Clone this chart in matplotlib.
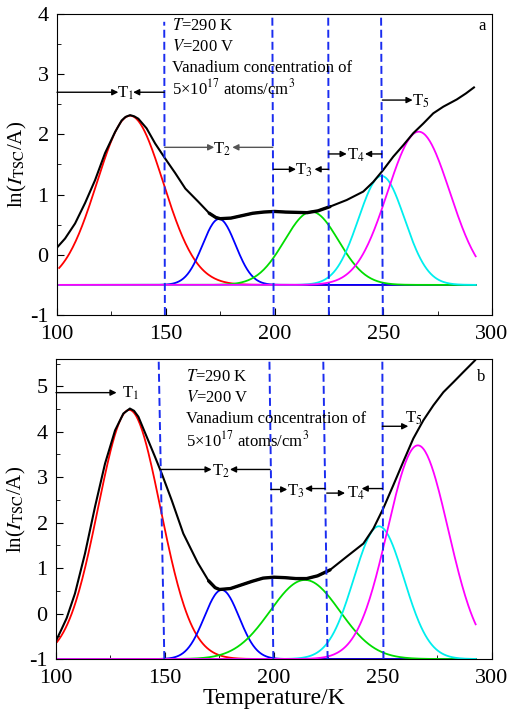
import numpy as np
import matplotlib
matplotlib.use("Agg")
import matplotlib.pyplot as plt

plt.rcParams['font.family'] = ['Liberation Serif', 'DejaVu Serif']
plt.rcParams['mathtext.fontset'] = 'stix'
plt.rcParams['axes.unicode_minus'] = False

# measured TSC curve, panel a
temp_a = [100, 103.7, 108.3, 112.9, 117.5, 122.1, 126.7, 129.7, 131.5, 133.6, 135.5, 137.4,
          141.2, 145.1, 149.7, 154.3, 159, 165, 170, 173, 175, 180, 185, 190, 195, 200,
          205, 210, 215, 220, 225.5, 233.2, 240.8, 245.4, 250, 254.6, 259.2, 263.8, 268.4,
          273, 277.6, 283.8, 288, 291.7]
tsc_a = [0.12, 0.27, 0.52, 0.86, 1.24, 1.69, 2.04, 2.23, 2.29, 2.32, 2.30, 2.26,
         2.10, 1.85, 1.60, 1.36, 1.10, 0.88, 0.69, 0.62, 0.60, 0.61, 0.65, 0.69, 0.71, 0.72,
         0.71, 0.705, 0.70, 0.73, 0.80, 0.91, 1.05, 1.21, 1.41, 1.63, 1.82, 2.02, 2.18,
         2.35, 2.46, 2.58, 2.68, 2.78]

# measured TSC curve, panel b
temp_b = [100, 102.5, 104.9, 108.7, 113.3, 117.9, 122.5, 127.1, 130.9, 133.9, 135.8, 137.8,
          141.6, 145.4, 148.5, 153.1, 158.4, 165, 170, 173, 175, 180, 185, 190, 195, 200,
          205, 210, 215, 220, 225.7, 233.3, 241, 245.6, 250.1, 254.7, 259.3, 263.9, 268.5,
          273.1, 277.7, 282.3, 286.8, 292.2]
tsc_b = [-0.60, -0.35, -0.10, 0.44, 1.32, 2.35, 3.30, 4.03, 4.40, 4.51, 4.46, 4.33,
         3.89, 3.45, 3.08, 2.49, 1.76, 1.12, 0.72, 0.57, 0.53, 0.55, 0.63, 0.71, 0.78, 0.80,
         0.79, 0.77, 0.77, 0.83, 0.96, 1.25, 1.54, 1.87, 2.31, 2.82, 3.34, 3.85, 4.25,
         4.58, 4.87, 5.09, 5.31, 5.57]

# fitted peaks T1..T5: centre (K), peak value, width (K)
peak_colors = ['#ff0000', '#0000ff', '#00dd00', '#00eeee', '#ff00ff']
centre_a = [133.6, 174.5, 217.0, 249.2, 266.3]
height_a = [2.31, 0.595, 0.716, 1.31, 2.045]
width_a = [15.2, 7.6, 12.4, 10.6, 14.3]
base_a = -0.5

centre_b = [133.6, 176.0, 214.2, 248.1, 266.0]
height_b = [4.48, 0.52, 0.74, 1.92, 3.70]
width_b = [14.3, 8.0, 16.0, 11.5, 13.9]
base_b = -1.0

# trap region borders: x at top, x at bottom, y at top
borders_a = [(149.3, 149.6, 3.87), (199.0, 199.6, 4), (224.7, 225.0, 4), (249.0, 249.8, 4)]
borders_b = [(147.1, 149.7, 5.6), (197.9, 199.7, 5.6), (222.6, 224.6, 5.6), (249.7, 250.2, 5.6)]

text_lines = ['$\\it{T}$=290 K', '$\\it{V}$=200 V', 'Vanadium concentration of',
              '5×10$^{17}$ atoms/cm$^{3}$']


def arrow(ax, x0, x1, y, color='k'):
    ax.annotate('', xy=(x1, y), xytext=(x0, y),
                arrowprops=dict(arrowstyle='-|>', color=color, lw=1.0,
                                mutation_scale=9, shrinkA=0, shrinkB=0))


def panel(ax, temp, tsc, centre, height, width, base, t0, borders, ylim):
    tt = np.linspace(t0, 292.5, 400)
    for c, h, w, col in zip(centre, height, width, peak_colors):
        ax.plot(tt, base + (h - base) * np.exp(-(tt - c) ** 2 / (2 * w ** 2)), color=col, lw=1.3)
    ax.plot(temp, tsc, color='k', lw=1.5)
    # noisy stretch of the measured curve looks thicker
    temp = np.asarray(temp)
    tsc = np.asarray(tsc)
    noisy = (temp >= 170) & (temp <= 228)
    ax.plot(temp[noisy], tsc[noisy], color='k', lw=2.4, solid_capstyle='round')
    for (xt, xb, yt) in borders:
        ax.plot([xb, xt], [ylim[0], yt], color='#1a2cf0', lw=1.4, ls=(0, (4.1, 2.1)))
    ax.set_xlim(100, 300)
    ax.set_ylim(*ylim)
    ax.set_xticks([100, 150, 200, 250, 300])
    ax.set_xticks([125, 175, 225, 275], minor=True)
    ax.tick_params(which='both', direction='in', labelsize=16, top=False, right=False)
    ax.tick_params(which='major', length=5)
    ax.tick_params(which='minor', length=3)
    ax.tick_params(axis='x', pad=7)
    ax.tick_params(axis='y', pad=6)
    ax.set_ylabel('ln($I$$_{\\rm TSC}$/A)', fontsize=15, labelpad=1)


fig = plt.figure(figsize=(5.09, 7.13), dpi=100)
ax1 = fig.add_axes([0.112, 0.5582, 0.8546, 0.4222])
ax2 = fig.add_axes([0.110, 0.0757, 0.8566, 0.4208])

panel(ax1, temp_a, tsc_a, centre_a, height_a, width_a, base_a, 101, borders_a, (-1, 4))
panel(ax2, temp_b, tsc_b, centre_b, height_b, width_b, base_b, 100.5, borders_b, (-1, 5.6))
ax1.set_yticks([-1, 0, 1, 2, 3, 4])
ax1.set_yticks(np.arange(-0.5, 4, 1), minor=True)
ax2.set_yticks([-1, 0, 1, 2, 3, 4, 5])
ax2.set_yticks(np.arange(-0.5, 5.6, 1), minor=True)
ax2.set_xlabel('Temperature/K', fontsize=17, labelpad=0)

fs = 12
# panel a annotations
for i, s in enumerate(text_lines):
    ax1.text(152.9, 3.80 - 0.345 * i, s, fontsize=fs, ha='left', va='center')
ax1.text(297, 3.8, 'a', fontsize=fs, ha='right', va='center')
arrow(ax1, 100, 128.2, 2.70)
ax1.text(131.5, 2.68, 'T$_1$', fontsize=fs, ha='center', va='center')
arrow(ax1, 149.3, 135.0, 2.70)
arrow(ax1, 149.5, 172.3, 1.785, '#555555')
ax1.text(175.8, 1.76, 'T$_2$', fontsize=fs, ha='center', va='center')
arrow(ax1, 199.2, 180.6, 1.785, '#555555')
arrow(ax1, 199.6, 209.9, 1.42)
ax1.text(213.6, 1.40, 'T$_3$', fontsize=fs, ha='center', va='center')
arrow(ax1, 224.9, 218.4, 1.42)
arrow(ax1, 225.0, 233.2, 1.675)
ax1.text(237.4, 1.65, 'T$_4$', fontsize=fs, ha='center', va='center')
arrow(ax1, 249.3, 241.6, 1.675)
arrow(ax1, 249.6, 263.5, 2.57)
ax1.text(267.2, 2.55, 'T$_5$', fontsize=fs, ha='center', va='center')

# panel b annotations
for i, s in enumerate(text_lines):
    ax2.text(159.6, 5.20 - 0.463 * i, s, fontsize=fs, ha='left', va='center')
ax2.text(297, 5.2, 'b', fontsize=fs, ha='right', va='center')
arrow(ax2, 100, 127.8, 4.86)
ax2.text(134.0, 4.84, 'T$_1$', fontsize=fs, ha='center', va='center')
arrow(ax2, 148.2, 171.4, 3.17)
ax2.text(175.9, 3.14, 'T$_2$', fontsize=fs, ha='center', va='center')
arrow(ax2, 198.2, 179.8, 3.17)
arrow(ax2, 198.6, 206.1, 2.73)
ax2.text(209.8, 2.69, 'T$_3$', fontsize=fs, ha='center', va='center')
arrow(ax2, 223.4, 214.2, 2.75)
arrow(ax2, 224.2, 232.6, 2.65)
ax2.text(237.6, 2.64, 'T$_4$', fontsize=fs, ha='center', va='center')
arrow(ax2, 249.7, 240.2, 2.75)
arrow(ax2, 249.7, 261.6, 4.12)
ax2.text(264.2, 4.30, 'T$_5$', fontsize=fs, ha='center', va='center')

fig.savefig('out.png', dpi=100)
